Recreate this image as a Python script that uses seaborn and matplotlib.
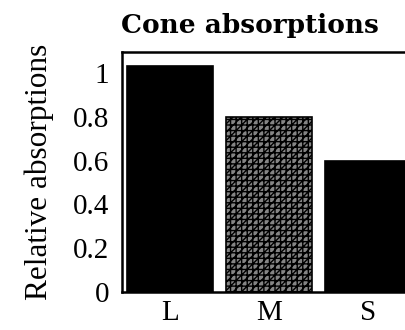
import matplotlib
matplotlib.use("Agg")
import matplotlib.pyplot as plt
import seaborn as sns
import pandas as pd

cones = ["L", "M", "S"]
absorptions = [1.03, 0.80, 0.60]
ytick_values = [0, 0.2, 0.4, 0.6, 0.8, 1.0]
ytick_labels = ["0", "0.2", "0.4", "0.6", "0.8", "1"]

sns.set_style("white")
plt.rcParams["font.family"] = ["Liberation Serif", "DejaVu Serif"]
plt.rcParams["hatch.linewidth"] = 1.0

df = pd.DataFrame({"cone": cones, "absorption": absorptions})

fig = plt.figure(figsize=(4.06, 3.30), dpi=100)
ax = fig.add_axes([0.3005, 0.115, 0.728, 0.727])

sns.barplot(data=df, x="cone", y="absorption", hue="cone",
            palette=["black", "white", "black"], width=0.87,
            legend=False, ax=ax, saturation=1)

for patch, cone in zip(ax.patches, cones):
    patch.set_edgecolor("black")
    patch.set_linewidth(1.2)
    if cone == "M":
        patch.set_facecolor("#858585")
        patch.set_hatch("////+++")

ax.set_xlim(-0.485, 2.5)
ax.set_ylim(0, 1.095)
ax.set_yticks(ytick_values)
ax.set_yticklabels(ytick_labels)
ax.tick_params(axis="both", length=0, labelsize=21, colors="black")
ax.tick_params(axis="y", pad=9)
ax.tick_params(axis="x", pad=6)

ax.set_xlabel("")
ax.set_ylabel("Relative absorptions", fontsize=22.5, labelpad=14, color="black")
ax.set_title("Cone absorptions", fontsize=19, fontweight="bold", pad=14,
             x=0.433, color="black", family="DejaVu Serif")

for side in ["left", "top", "bottom"]:
    ax.spines[side].set_visible(True)
    ax.spines[side].set_color("black")
    ax.spines[side].set_linewidth(1.8)
ax.spines["right"].set_visible(False)

fig.savefig("out.png", dpi=100)
